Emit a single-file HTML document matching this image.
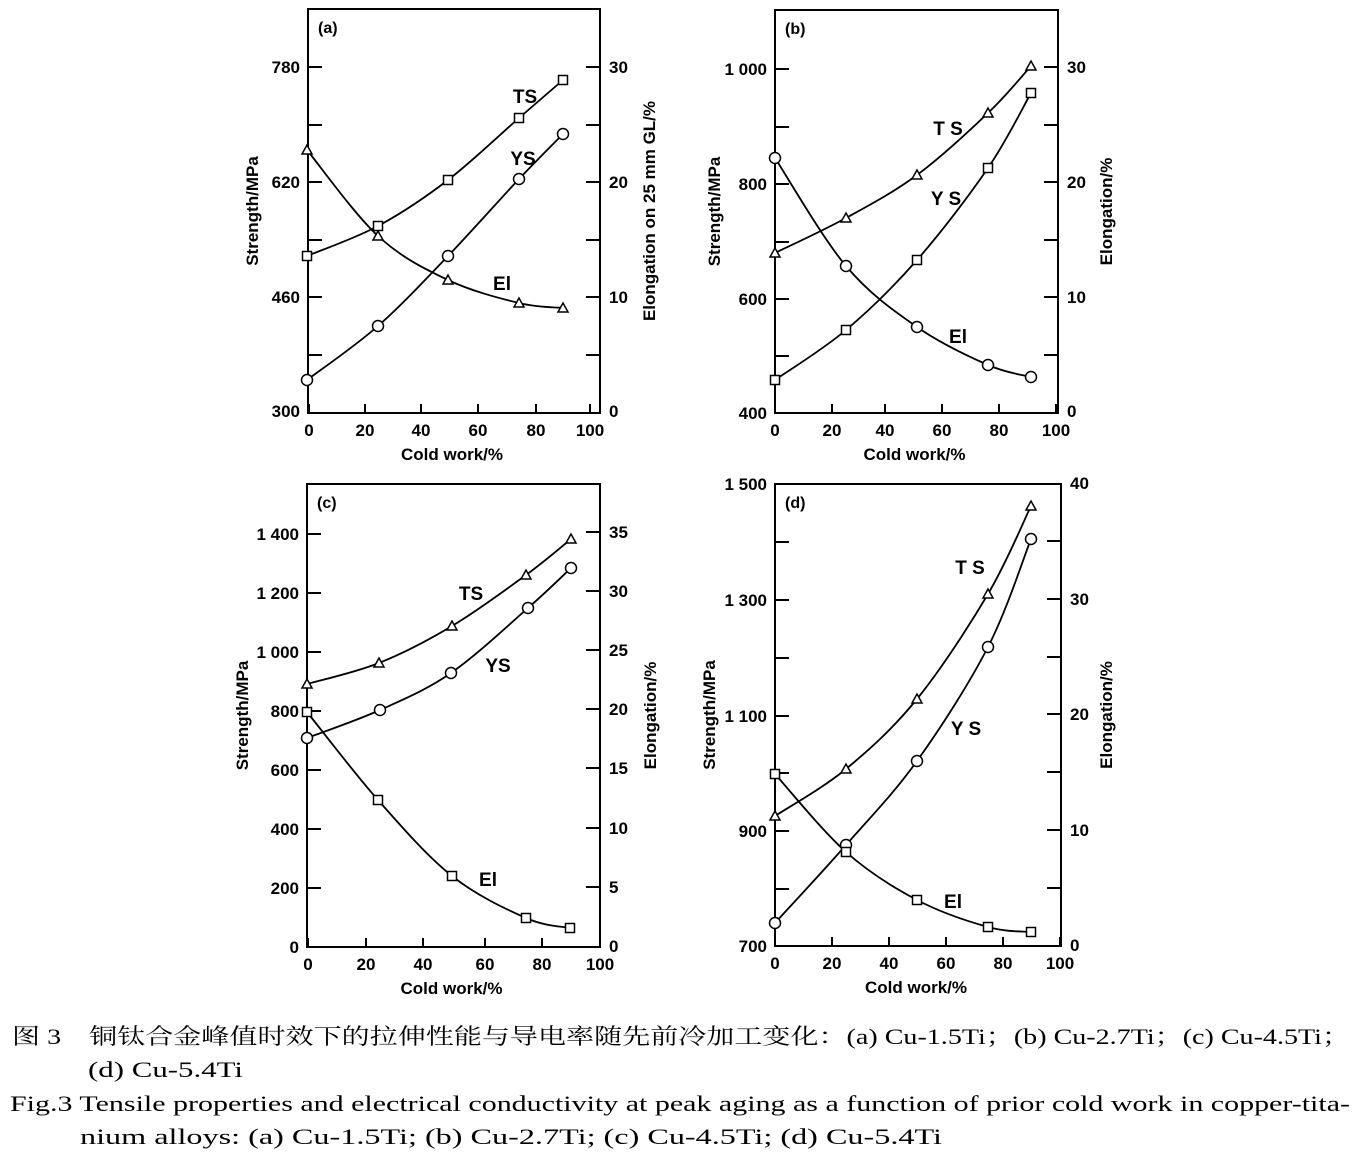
<!DOCTYPE html>
<html><head><meta charset="utf-8"><style>
html,body{margin:0;padding:0;background:#fff;}
svg{display:block;}
text{font-family:"Liberation Sans",Arial,sans-serif;font-weight:bold;fill:#000;}
.cap{font-family:"Liberation Serif","Noto Serif CJK SC",serif;font-weight:normal;font-size:22px;}
</style></head><body>
<svg id="s" width="1365" height="1156" viewBox="0 0 1365 1156" xmlns="http://www.w3.org/2000/svg">
<g id="g" stroke="#000" fill="none" stroke-width="2"></g>
<g id="t" font-size="17"></g>
<text class="cap" x="12" y="1044" textLength="1338" lengthAdjust="spacingAndGlyphs">图 3　铜钛合金峰值时效下的拉伸性能与导电率随先前冷加工变化：(a) Cu-1.5Ti；(b) Cu-2.7Ti；(c) Cu-4.5Ti；</text>
<text class="cap" x="88" y="1077" textLength="155" lengthAdjust="spacingAndGlyphs">(d) Cu-5.4Ti</text>
<text class="cap" x="10" y="1111" textLength="1340" lengthAdjust="spacingAndGlyphs">Fig.3 Tensile properties and electrical conductivity at peak aging as a function of prior cold work in copper-tita-</text>
<text class="cap" x="80" y="1144" textLength="862" lengthAdjust="spacingAndGlyphs">nium alloys: (a) Cu-1.5Ti; (b) Cu-2.7Ti; (c) Cu-4.5Ti; (d) Cu-5.4Ti</text>
</svg>
<script>
var g=document.getElementById('g'),t=document.getElementById('t'),NS='http://www.w3.org/2000/svg';
function el(p,n,a,txt){var e=document.createElementNS(NS,n);for(var k in a)e.setAttribute(k,a[k]);if(txt!=null)e.textContent=txt;p.appendChild(e);return e;}
function ln(x1,y1,x2,y2){el(g,'line',{x1:x1,y1:y1,x2:x2,y2:y2});}
function tx(x,y,s,anchor,size,rot){var a={x:x,y:y,'text-anchor':anchor||'middle'};if(size)a['font-size']=size;if(rot)a.transform='rotate(-90 '+x+' '+y+')';el(t,'text',a,s);}
function curve(p){var d='M'+p[0][0]+','+p[0][1];for(var i=0;i<p.length-1;i++){var p0=p[i-1]||p[i],p1=p[i],p2=p[i+1],p3=p[i+2]||p2;
d+=' C'+(p1[0]+(p2[0]-p0[0])/6)+','+(p1[1]+(p2[1]-p0[1])/6)+' '+(p2[0]-(p3[0]-p1[0])/6)+','+(p2[1]-(p3[1]-p1[1])/6)+' '+p2[0]+','+p2[1];}
el(g,'path',{d:d,'stroke-width':1.8});}
function mk(p,type){p.forEach(function(q){var x=q[0],y=q[1];
if(type=='s')el(g,'rect',{x:x-4.5,y:y-4.5,width:9,height:9,fill:'#fff','stroke-width':1.5});
else if(type=='c')el(g,'circle',{cx:x,cy:y,r:5.5,fill:'#fff','stroke-width':1.5});
else el(g,'polygon',{points:(x)+','+(y-5)+' '+(x-5)+','+(y+4)+' '+(x+5)+','+(y+4),fill:'#fff','stroke-width':1.5});});}
function panel(o){
el(g,'rect',{x:o.x0,y:o.y0,width:o.x1-o.x0,height:o.y1-o.y0});
o.xt.forEach(function(x,i){ln(x,o.y1,x,o.y1-9);tx(x,o.y1+23,String(i*20));});
o.ly.forEach(function(y){ln(o.x0,y,o.x0+14,y);});
o.ll.forEach(function(l){tx(o.x0-8,l[0]+6,l[1],'end');});
o.ry.forEach(function(y){ln(o.x1,y,o.x1-14,y);});
o.rl.forEach(function(l){tx(o.x1+9,l[0]+6,l[1],'start');});
tx(o.x0+10,o.y0+24,o.lab,'start',16);
tx((o.x0+o.x1)/2-2,o.y1+47,'Cold work/%');
tx(o.lx,(o.y0+o.y1)/2,'Strength/MPa','middle',17,1);
tx(o.rx,(o.y0+o.y1)/2,o.rt,'middle',17,1);
o.series.forEach(function(s){curve(s.p);mk(s.p,s.m);});
o.tags.forEach(function(l){tx(l[0],l[1],l[2],'middle',19);});
}
panel({x0:308,y0:9,x1:600,y1:413,lab:'(a)',xt:[309,365,421,478,536,590],
ly:[67,125,182,240,297,355],ll:[[67,'780'],[182,'620'],[297,'460'],[411,'300']],
ry:[67,125,182,240,297,355],rl:[[67,'30'],[182,'20'],[297,'10'],[411,'0']],
lx:258,rx:655,rt:'Elongation on 25 mm GL/%',
series:[{m:'s',p:[[307,256],[378,226],[448,180],[519,118],[563,80]]},{m:'c',p:[[307,380],[378,326],[448,256],[519,179],[563,134]]},{m:'t',p:[[307,150],[378,236],[448,280],[519,303],[563,308]]}],
tags:[[525,103,'TS'],[523,165,'YS'],[502,290,'El']]});
panel({x0:775,y0:10,x1:1058,y1:413,lab:'(b)',xt:[775,832,885,942,999,1056],
ly:[69,127,184,242,299,356],ll:[[69,'1 000'],[184,'800'],[299,'600'],[413,'400']],
ry:[67,125,182,240,297,355],rl:[[67,'30'],[182,'20'],[297,'10'],[411,'0']],
lx:720,rx:1112,rt:'Elongation/%',
series:[{m:'t',p:[[775,253],[846,218],[917,175],[988,113],[1031,66]]},{m:'s',p:[[775,380],[846,330],[917,260],[988,168],[1031,93]]},{m:'c',p:[[775,158],[846,266],[917,327],[988,365],[1031,377]]}],
tags:[[948,135,'T S'],[946,205,'Y S'],[958,343,'El']]});
panel({x0:307,y0:484,x1:600,y1:947,lab:'(c)',xt:[308,366,423,485,542,600],
ly:[534,593,652,711,770,829,888],ll:[[534,'1 400'],[593,'1 200'],[652,'1 000'],[711,'800'],[770,'600'],[829,'400'],[888,'200'],[947,'0']],
ry:[532,591,650,709,768,828,887],rl:[[532,'35'],[591,'30'],[650,'25'],[709,'20'],[768,'15'],[828,'10'],[887,'5'],[946,'0']],
lx:248,rx:656,rt:'Elongation/%',
series:[{m:'t',p:[[307,684],[379,663],[452,626],[526,575],[571,539]]},{m:'c',p:[[307,738],[380,710],[451,673],[528,608],[571,568]]},{m:'s',p:[[307,712],[378,800],[452,876],[526,918],[570,928]]}],
tags:[[471,600,'TS'],[498,672,'YS'],[488,886,'El']]});
panel({x0:775,y0:484,x1:1061,y1:946,lab:'(d)',xt:[775,832,889,946,1003,1060],
ly:[542,600,658,716,773,831,889],ll:[[484,'1 500'],[600,'1 300'],[716,'1 100'],[831,'900'],[946,'700']],
ry:[541,599,657,714,772,830,888],rl:[[483,'40'],[599,'30'],[714,'20'],[830,'10'],[945,'0']],
lx:715,rx:1112,rt:'Elongation/%',
series:[{m:'t',p:[[775,816],[846,769],[917,699],[988,594],[1031,506]]},{m:'c',p:[[775,923],[846,845],[917,761],[988,647],[1031,539]]},{m:'s',p:[[775,774],[846,852],[917,900],[988,927],[1031,932]]}],
tags:[[970,574,'T S'],[966,735,'Y S'],[953,908,'El']]});
</script>
</body></html>
